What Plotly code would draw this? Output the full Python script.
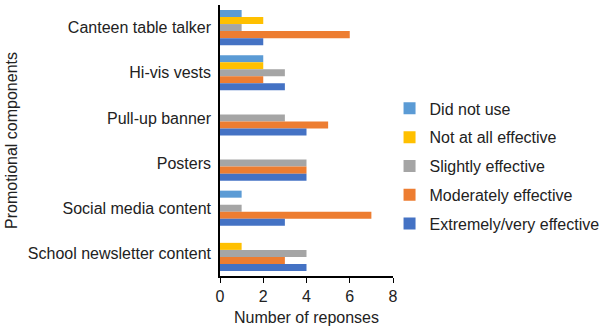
import plotly.graph_objects as go

categories = ["Canteen table talker", "Hi-vis vests", "Pull-up banner",
              "Posters", "Social media content", "School newsletter content"]

series_names = ["Did not use", "Not at all effective", "Slightly effective",
                "Moderately effective", "Extremely/very effective"]

did_not_use = [1, 2, 0, 0, 1, 0]
not_at_all = [2, 2, 0, 0, 0, 1]
slightly = [1, 3, 3, 4, 1, 4]
moderately = [6, 2, 5, 4, 7, 3]
extremely = [2, 3, 4, 4, 3, 4]

colors = ["#5B9BD5", "#FFC000", "#A5A5A5", "#ED7D31", "#4472C4"]

fig = go.Figure()
for name, vals, col in zip(series_names,
                           [did_not_use, not_at_all, slightly, moderately, extremely],
                           colors):
    fig.add_trace(go.Bar(y=categories, x=vals, name=name, orientation="h",
                         legendgroup=name,
                         marker=dict(color=col, line=dict(width=0))))

fig.update_layout(
    width=600, height=327,
    margin=dict(l=220, r=207, t=5, b=51, autoexpand=False),
    barmode="group", bargap=0.22, bargroupgap=0,
    plot_bgcolor="white", paper_bgcolor="white",
    font=dict(family="Liberation Sans, Arial, sans-serif", size=16, color="#222"),
    legend=dict(x=0.98, y=0.406, xanchor="left", yanchor="middle",
                font=dict(size=16), tracegroupgap=5, itemwidth=30,
                traceorder="grouped", bgcolor="rgba(0,0,0,0)"),
    xaxis=dict(range=[0, 8], dtick=2, showgrid=False, zeroline=False,
               showline=True, linecolor="black", linewidth=1.5,
               ticks="outside", ticklen=5, tickcolor="black",
               tickfont=dict(size=16),
               title=dict(text="Number of reponses", standoff=8,
                          font=dict(size=16))),
    yaxis=dict(autorange="reversed", showgrid=False, showline=True,
               linecolor="black", linewidth=1.5, ticks="",
               ticklabelstandoff=4, tickfont=dict(size=16),
               title=dict(text="Promotional components", standoff=6,
                          font=dict(size=16))),
)

fig.write_html("out.html")
